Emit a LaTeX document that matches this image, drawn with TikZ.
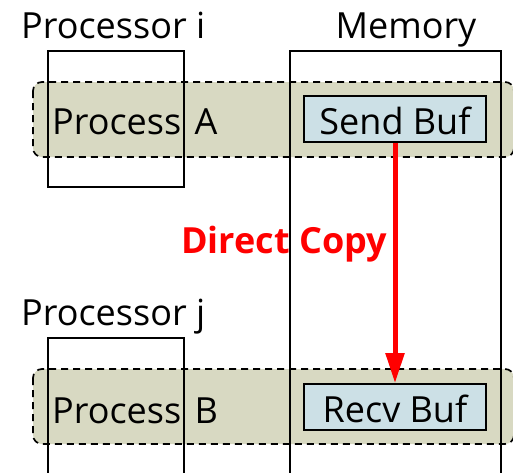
\documentclass[tikz,border=0pt]{standalone}
\usepackage{fontspec}
\setmainfont{Open Sans}
\usetikzlibrary{arrows.meta}
\definecolor{bandfill}{HTML}{D8D9C2}
\definecolor{buffill}{HTML}{CCE0E6}
\definecolor{arrred}{HTML}{FF0000}
\tikzset{
  band/.style={draw=black, fill=bandfill, dash pattern=on 7pt off 5pt, line width=1.7pt, rounded corners=9pt},
  box/.style={draw=black, line width=1.3pt},
  bufbox/.style={draw=black, fill=buffill, line width=1.6pt, minimum width=182pt, minimum height=46pt, inner sep=0pt, text height=30pt, text depth=0pt, font=\fontsize{36}{40}\selectfont},
  lbl/.style={inner sep=0pt, font=\fontsize{36}{40}\selectfont},
  copylbl/.style={inner sep=0pt, text=arrred, font=\fontsize{36}{40}\selectfont\bfseries},
  copyarrow/.style={draw=arrred, line width=5pt, -{Triangle[length=30pt,width=18pt]}}
}
\begin{document}
\begin{tikzpicture}[x=1pt,y=-1pt]
\useasboundingbox (0,0) rectangle (513,472);
\clip (0,0) rectangle (513,472);
% bands
\draw[band] (33,82) rectangle (514,157);
\draw[band] (33,369) rectangle (514,444);
% processor and memory boxes
\draw[box] (48,51) rectangle (184,187);
\draw[box] (48,338) rectangle (184,480);
\draw[box] (290,51) rectangle (501,480);
% labels
\node[lbl, anchor=base west] (pi) at (21,38) {Processor i};
\node[lbl, anchor=base] (mem) at (406,38) {Memory};
\node[lbl, anchor=base west] (pj) at (21,325) {Processor j};
\node[lbl, anchor=base west] (pa) at (52,134) {Process\hspace{4pt} A};
\node[lbl, anchor=base west] (pb) at (52,423) {Process\hspace{4pt} B};
% buffers
\node[bufbox] (send) at (395,119) {Send Buf};
\node[bufbox] (recv) at (395,407) {Recv Buf};
% arrow
\draw[copyarrow] (send.south) -- (recv.north);
\node[copylbl, anchor=base] (dc) at (284,253) {Direct Copy};
\end{tikzpicture}
\end{document}
